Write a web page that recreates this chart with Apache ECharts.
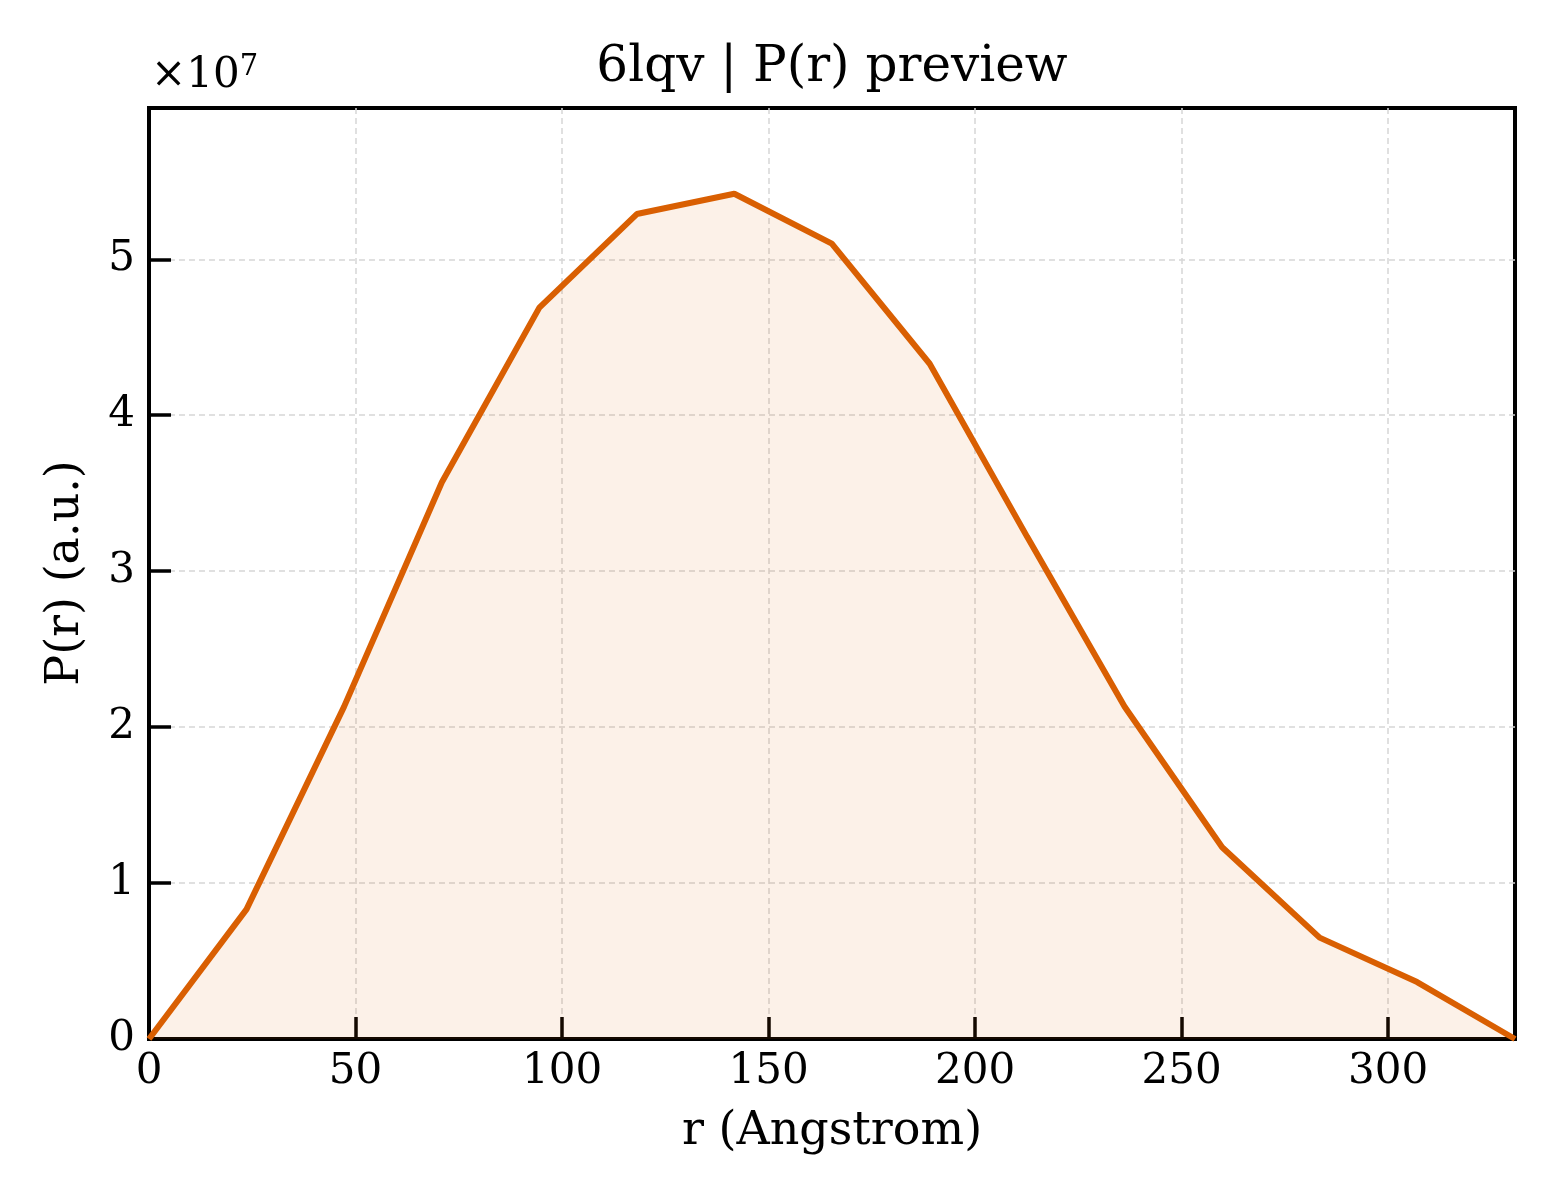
<!DOCTYPE html>
<html>
<head>
<meta charset="utf-8">
<script src="https://cdn.jsdelivr.net/npm/echarts@6/dist/echarts.min.js"></script>
<style>
html,body{margin:0;padding:0;background:#fff;}
#chart{width:1560px;height:1200px;}
</style>
</head>
<body>
<div id="chart"></div>
<script>
// r values (Angstrom)
const rValues = [0, 23.6, 47.2, 70.9, 94.5, 118.1, 141.7, 165.3, 189.0, 212.6, 236.2, 259.8, 283.4, 307.0, 330.7];
// P(r) values (a.u.)
const prValues = [0, 0.831e7, 2.13e7, 3.57e7, 4.69e7, 5.29e7, 5.42e7, 5.10e7, 4.33e7, 3.22e7, 2.13e7, 1.23e7, 0.65e7, 0.365e7, 0];
const xTicks = [0, 50, 100, 150, 200, 250, 300];
const yTicks = [0, 1, 2, 3, 4, 5];
const yScale = 1e7;
const titleText = '6lqv | P(r) preview';
const xLabel = 'r (Angstrom)';
const yLabel = 'P(r) (a.u.)';

const FONT = '"DejaVu Serif", serif';
const chart = echarts.init(document.getElementById('chart'));
const seriesData = rValues.map((r, i) => [r, prValues[i]]);

chart.setOption({
  animation: false,
  backgroundColor: '#fff',
  grid: {
    left: 149, right: 45, top: 108, bottom: 161,
    show: true, borderColor: '#000', borderWidth: 4, backgroundColor: 'transparent'
  },
  xAxis: {
    type: 'value', min: 0, max: 330.7, interval: 50,
    axisLine: { show: true, onZero: false, lineStyle: { color: '#000', width: 4 } },
    axisTick: { show: true, inside: true, length: 22, lineStyle: { color: '#000', width: 3.5 } },
    axisLabel: {
      show: true, showMaxLabel: false, margin: 12, color: '#000',
      fontFamily: FONT, fontSize: 42,
      formatter: v => xTicks.includes(v) ? String(v) : ''
    },
    splitLine: { show: true, showMinLine: false, showMaxLine: false, lineStyle: { color: '#d6d6d6', width: 1.5, type: [6, 4] } }
  },
  yAxis: {
    type: 'value', min: 0, max: 5.97e7, interval: 1e7,
    axisLine: { show: true, onZero: false, lineStyle: { color: '#000', width: 4 } },
    axisTick: { show: true, inside: true, length: 22, lineStyle: { color: '#000', width: 3.5 } },
    axisLabel: {
      show: true, showMaxLabel: false, margin: 14, color: '#000',
      fontFamily: FONT, fontSize: 42,
      formatter: v => {
        const t = Math.round(v / yScale * 100) / 100;
        return yTicks.includes(t) ? String(t) : '';
      }
    },
    splitLine: { show: true, showMinLine: false, showMaxLine: false, lineStyle: { color: '#d6d6d6', width: 1.5, type: [6, 4] } }
  },
  series: [{
    type: 'line',
    data: seriesData,
    showSymbol: false,
    symbol: 'none',
    lineStyle: { color: '#D95F02', width: 6 },
    areaStyle: { color: 'rgba(217,95,2,0.13)', origin: 'start' },
    z: 3
  }],
  graphic: [
    {
      type: 'text', x: 832, y: 68,
      style: { text: titleText, fontFamily: FONT, fontSize: 50, fill: '#000', align: 'center', verticalAlign: 'middle' }
    },
    {
      type: 'text', x: 832, y: 1132,
      style: { text: xLabel, fontFamily: FONT, fontSize: 46, fill: '#000', align: 'center', verticalAlign: 'middle' }
    },
    {
      type: 'text', x: 66, y: 573, rotation: Math.PI / 2,
      style: { text: yLabel, fontFamily: FONT, fontSize: 46, fill: '#000', align: 'center', verticalAlign: 'middle' }
    },
    {
      type: 'text', x: 151, y: 100,
      style: {
        text: '{a|×10}{b|7}', fill: '#000', align: 'left', verticalAlign: 'bottom',
        rich: {
          a: { fontFamily: FONT, fontSize: 42, fill: '#000' },
          b: { fontFamily: FONT, fontSize: 29, fill: '#000', padding: [0, 0, 18, 0] }
        }
      }
    }
  ]
});
</script>
</body>
</html>
